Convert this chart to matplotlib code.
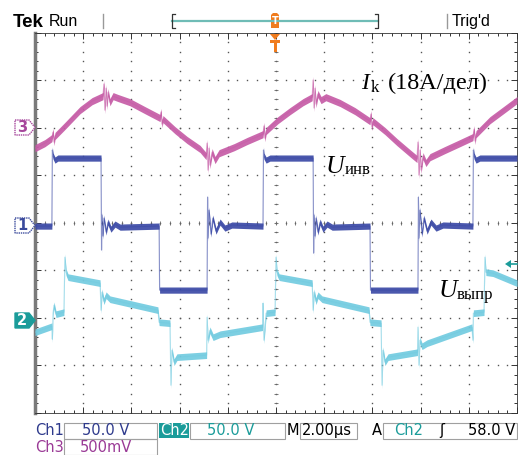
import matplotlib
matplotlib.use('Agg')
import matplotlib.pyplot as plt
from matplotlib.lines import Line2D
from matplotlib.patches import Rectangle, Polygon
import numpy as np

W, H = 518, 455

ch1_t = [0.00, 0.70, 0.72, 0.75, 0.83, 0.95, 2.74, 2.76, 2.78, 2.82, 2.86, 2.95, 3.03, 3.15, 3.32, 3.53,
         5.15, 5.17, 7.14, 7.16, 7.18, 7.22, 7.30, 7.38, 7.51, 7.68, 7.88, 8.17,
         9.46, 9.48, 9.50, 9.59, 9.75, 11.54, 11.56, 11.58, 11.62, 11.66, 11.74, 11.83, 11.95, 12.12, 12.33,
         13.90, 13.92, 15.89, 15.91, 15.93, 15.97, 16.06, 16.14, 16.27, 16.43, 16.64, 16.93,
         18.17, 18.19, 18.22, 18.30, 18.46, 20.0]
ch1_v = [0, 0, 80, 73.6, 69.4, 71.5, 71.5, -25.2, 11.6, -10.5, 8.4, -6.3, 4.2, -3.2, 2.1, -1.1,
         0, -67.3, -67.3, 30.5, -12.6, 16.8, -8.4, 8.4, -5.3, 4.2, -2.1, 1.1,
         0, 80, 73.6, 69.4, 71.5, 71.5, -28.4, 11.6, -10.5, 8.4, -6.3, 4.2, -3.2, 2.1, -1.1,
         0, -67.3, -67.3, 30.5, -12.6, 16.8, -8.4, 8.4, -5.3, 4.2, -2.1, 1.1,
         0, 80, 73.6, 69.4, 71.5, 71.5]

ch2_t = [0.00, 0.70, 0.72, 0.75, 0.79, 0.87, 1.20, 1.24, 1.29, 1.37, 2.70, 2.74, 2.78, 2.86, 2.95, 3.11,
         5.10, 5.15, 5.60, 5.64, 5.68, 5.77, 5.89, 7.12, 7.14, 7.18, 7.26, 7.39, 7.68,
         9.44, 9.46, 9.50, 9.59, 9.96, 10.00, 10.04, 10.13, 11.50, 11.54, 11.58, 11.66, 11.74, 11.91,
         13.86, 13.90, 14.36, 14.40, 14.44, 14.52, 14.65, 15.87, 15.89, 15.93, 15.97, 16.06, 16.27,
         18.13, 18.17, 18.19, 18.63, 18.67, 18.71, 19.00, 20.00]
ch2_v = [-11.6, -5.3, -18.9, 8.4, 16.8, 7.4, 9.5, 67.3, 51.5, 46.3, 40.0, 11.6, 30.5, 21.0, 27.3, 23.1,
         11.6, -1.1, -2.1, -67.3, -30.5, -43.1, -37.8, -35.7, 4.2, -20.0, -9.5, -16.8, -13.7,
         -6.3, 18.9, -20.0, 8.4, 9.5, 67.3, 51.5, 46.3, 40.0, 11.6, 30.5, 21.0, 27.3, 23.1,
         11.6, -1.1, -2.1, -67.3, -30.5, -43.1, -37.8, -32.6, -6.3, -46.3, -20.0, -26.3, -23.1,
         -6.3, -20.0, 8.4, 9.5, 67.3, 51.5, 50.5, 40.0]

ch3_t = [0.00, 0.41, 0.70, 0.75, 0.79, 0.83, 1.24, 1.87, 2.37, 2.82, 2.86, 2.90, 2.95, 2.99, 3.03, 3.11,
         3.24, 3.44, 3.94, 4.56, 5.19, 5.23, 5.27, 5.31, 5.81, 6.31, 6.85, 7.10, 7.14, 7.18, 7.22,
         7.26, 7.35, 7.47, 7.64, 8.27, 8.80, 9.46, 9.50, 9.54, 9.59, 10.08, 10.58, 11.12, 11.50,
         11.54, 11.58, 11.62, 11.66, 11.74, 11.87, 12.07, 12.66, 13.28, 13.90, 13.94, 13.98, 14.02,
         14.52, 15.02, 15.56, 15.85, 15.89, 15.93, 15.98, 16.02, 16.10, 16.22, 16.39, 17.01, 17.63,
         18.17, 18.22, 18.26, 18.30, 18.88, 19.50, 20.00]
ch3_i = [-7.6, -5.7, -3.8, -1.5, -5.3, -3.0, 0.8, 6.8, 10.2, 12.1, 16.7, 6.8, 15.1, 8.3, 13.6, 9.8,
         12.1, 11.4, 9.8, 6.8, 3.8, 6.1, 1.5, 3.4, -0.8, -4.5, -7.9, -10.6, -5.7, -15.9, -7.6,
         -14.0, -9.1, -12.1, -9.5, -7.2, -4.9, -2.3, 0.8, -3.8, -1.1, 3.0, 6.4, 9.8, 11.7,
         18.2, 7.6, 15.1, 9.1, 12.9, 10.6, 11.7, 9.5, 6.4, 2.6, 5.3, 0.4, 2.6,
         -1.1, -5.3, -9.5, -11.7, -5.3, -17.8, -8.3, -15.9, -10.6, -13.2, -11.0, -8.3, -5.7,
         -3.4, -0.4, -4.9, -2.3, 3.0, 7.2, 10.6]

# развертка и масштабы каналов
time_per_div = 2.0
ch1_scale, ch2_scale, ch3_scale = 50.0, 50.0, 18.0
ch1_pos, ch2_pos, ch3_pos = -0.07, -2.07, 1.99

c1 = '#3b4aa6'
c2 = '#72cbe0'
c3 = '#c65ca6'
teal = '#1b9c9a'


def fx(px):
    return px / W


def fy(py):
    return 1 - py / H


fig = plt.figure(figsize=(W / 100, H / 100), dpi=100)
fig.patch.set_facecolor('white')

ax = fig.add_axes([fx(35), fy(413), 482 / W, 380.5 / H])
ax.set_xlim(0, 10 * time_per_div)
ax.set_ylim(-4, 4)
ax.set_facecolor('white')

# рамка экрана
for s in ['top', 'bottom', 'right']:
    ax.spines[s].set_color('#333333')
    ax.spines[s].set_linewidth(0.6)
    ax.spines[s].set_linestyle((0, (1, 1)))
ax.spines['left'].set_color('#7a7a7a')
ax.spines['left'].set_linewidth(2.5)
ax.set_xticks(np.arange(0, 20.01, 2))
ax.set_xticks(np.arange(0, 20.01, 0.4), minor=True)
ax.set_yticks(np.arange(-4, 4.01, 1))
ax.set_yticks(np.arange(-4, 4.01, 0.2), minor=True)
ax.tick_params(which='both', direction='in', top=True, right=True, labelbottom=False, labelleft=False,
               color='#333333', width=0.7)
ax.tick_params(which='major', length=4)
ax.tick_params(which='minor', length=2)

# сетка из точек
gx = np.arange(0, 20.01, 0.4)
gy = np.arange(-4, 4.01, 0.2)
for xv in np.arange(2, 19, 2):
    ax.plot(np.full_like(gy, xv), gy, ls='none', marker='s', ms=1.0, mec='none', mfc='#555555', zorder=1)
for yv in np.arange(-3, 4, 1):
    ax.plot(gx, np.full_like(gx, yv), ls='none', marker='s', ms=1.0, mec='none', mfc='#555555', zorder=1)
# центральные оси с мелкими делениями
ax.plot(gx, np.zeros_like(gx), ls='none', marker='|', ms=3, mew=0.6, color='#666666', zorder=1)
ax.plot(np.full_like(gy, 10), gy, ls='none', marker='_', ms=3, mew=0.6, color='#666666', zorder=1)


def trace(t, v, scale, pos, color, band, z):
    y = pos + np.array(v) / scale
    ax.fill_between(t, y - band, y + band, color=color, lw=0, alpha=0.92, zorder=z)
    ax.plot(t, y, color=color, lw=0.8, alpha=0.6, zorder=z)


trace(ch2_t, ch2_v, ch2_scale, ch2_pos, c2, 0.07, 3)
trace(ch1_t, ch1_v, ch1_scale, ch1_pos, c1, 0.065, 4)
trace(ch3_t, ch3_i, ch3_scale, ch3_pos, c3, 0.075, 5)

# подписи кривых
serif = 'Liberation Serif'
fig.text(fx(361), fy(89), 'I', fontsize=17, family=serif, style='italic')
fig.text(fx(371), fy(92), 'k', fontsize=12, family=serif)
fig.text(fx(388), fy(89), '(18А/дел)', fontsize=17.5, family=serif)
fig.text(fx(326), fy(173), 'U', fontsize=18.5, family=serif, style='italic')
fig.text(fx(345), fy(174), 'инв', fontsize=12, family=serif)
fig.text(fx(439), fy(297), 'U', fontsize=18.5, family=serif, style='italic')
fig.text(fx(457), fy(299), 'выпр', fontsize=12, family=serif)

# маркеры каналов слева


def marker(yc, label, color, filled):
    pts = [(fx(15), fy(yc - 7.5)), (fx(29), fy(yc - 7.5)), (fx(35), fy(yc)),
           (fx(29), fy(yc + 7.5)), (fx(15), fy(yc + 7.5))]
    if filled:
        p = Polygon(pts, closed=True, fc=color, ec=color, lw=1)
        tc = 'white'
    else:
        p = Polygon(pts, closed=True, fc='white', ec=color, lw=1, ls=(0, (1, 0.6)))
        tc = color
    fig.add_artist(p)
    fig.text(fx(22), fy(yc), label, fontsize=10.5, weight='bold', color=tc, ha='center', va='center',
             family='DejaVu Sans')


marker(127.5, '3', '#a6479c', False)
marker(225.5, '1', '#3a4a9c', False)
marker(320.5, '2', teal, True)

# стрелка уровня запуска справа
fig.add_artist(Polygon([(fx(505), fy(264)), (fx(511), fy(260)), (fx(511), fy(268))], closed=True,
                       fc=teal, ec='none'))
fig.add_artist(Line2D([fx(510), fx(517)], [fy(264), fy(264)], color=teal, lw=1.2))

# верхняя строка
sans = 'Liberation Sans'
fig.text(fx(13), fy(27), 'Tek', fontsize=13.5, weight='bold', family=sans)
fig.text(fx(49), fy(26), 'Run', fontsize=11.5, family=sans)
fig.text(fx(452), fy(26), "Trig'd", fontsize=11.5, family=sans)
for xs in [103, 447]:
    fig.add_artist(Line2D([fx(xs), fx(xs)], [fy(14), fy(28)], color='#999999', lw=1))
fig.add_artist(Line2D([fx(172), fx(378)], [fy(21), fy(21)], color='#6fbcb6', lw=1.6))
fig.add_artist(Line2D([fx(175), fx(172), fx(172), fx(175)], [fy(14), fy(14), fy(28), fy(28)],
                      color='#333333', lw=0.9))
fig.add_artist(Line2D([fx(375), fx(378), fx(378), fx(375)], [fy(14), fy(14), fy(28), fy(28)],
                      color='#333333', lw=0.9))
orange = '#f07c1e'
fig.add_artist(Polygon([(fx(271), fy(15)), (fx(273), fy(13)), (fx(277), fy(13)), (fx(279), fy(15)),
                        (fx(279), fy(28)), (fx(271), fy(28))], closed=True, fc=orange, ec='none'))
fig.text(fx(275), fy(21), 'T', fontsize=7, color='white', ha='center', va='center', weight='bold',
         family='DejaVu Sans')
fig.add_artist(Polygon([(fx(270), fy(34)), (fx(280), fy(34)), (fx(275), fy(40))], closed=True,
                       fc=orange, ec='none'))
fig.add_artist(Polygon([(fx(270), fy(40)), (fx(280), fy(40)), (fx(280), fy(43)), (fx(276.5), fy(43)),
                        (fx(276.5), fy(52)), (fx(273.5), fy(52)), (fx(273.5), fy(43)), (fx(270), fy(43))],
                       closed=True, fc=orange, ec='none'))

# нижняя строка
mono = 'DejaVu Sans'
box_ec = '#a0a0a0'
for (x0, x1, y0, y1) in [(64, 157, 423, 439), (64, 157, 439, 455), (190, 285, 423, 439),
                         (300, 357, 423, 439), (383, 517, 423, 439)]:
    fig.add_artist(Rectangle((fx(x0), fy(y1)), (x1 - x0) / W, (y1 - y0) / H, fc='none', ec=box_ec, lw=0.8))
fig.add_artist(Rectangle((fx(159), fy(438)), 30 / W, 15 / H, fc=teal, ec='none'))

fs = 10.5
fig.text(fx(35), fy(430.5), 'Ch1', fontsize=fs, color='#2e3a8c', va='center', family=mono)
fig.text(fx(82), fy(430.5), '50.0 V', fontsize=fs, color='#2e3a8c', va='center', family=mono)
fig.text(fx(160), fy(430.5), 'Ch2', fontsize=fs, color='white', va='center', family=mono)
fig.text(fx(207), fy(430.5), '50.0 V', fontsize=fs, color=teal, va='center', family=mono)
fig.text(fx(287), fy(430.5), 'M', fontsize=fs, color='black', va='center', family=mono)
fig.text(fx(302), fy(430.5), '2.00µs', fontsize=fs, color='black', va='center', family=mono)
fig.text(fx(372), fy(430.5), 'A', fontsize=fs, color='black', va='center', family=mono)
fig.text(fx(394), fy(430.5), 'Ch2', fontsize=fs, color=teal, va='center', family=mono)
fig.text(fx(442), fy(430.5), 'ʃ', fontsize=fs, color='black', va='center', ha='center', family=mono)
fig.text(fx(468), fy(430.5), '58.0 V', fontsize=fs, color='black', va='center', family=mono)
fig.text(fx(35), fy(447), 'Ch3', fontsize=fs, color='#9a3a96', va='center', family=mono)
fig.text(fx(80), fy(447), '500mV', fontsize=fs, color='#9a3a96', va='center', family=mono)

fig.savefig('out.png', dpi=100, facecolor='white')
